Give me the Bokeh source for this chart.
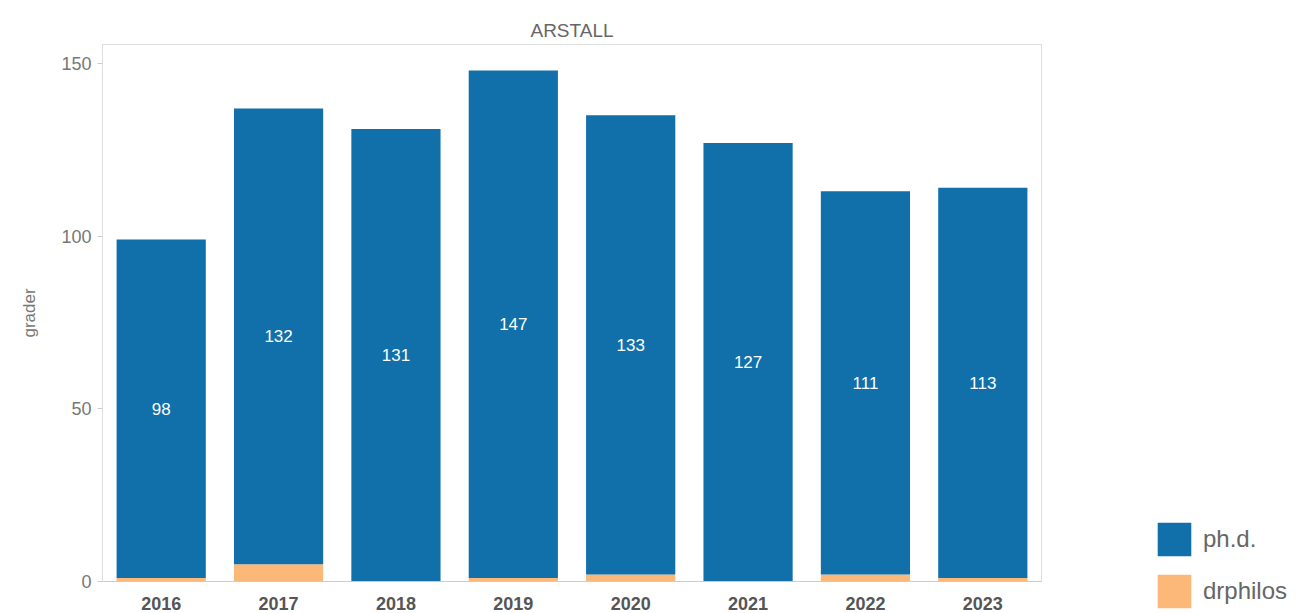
from bokeh.plotting import figure
from bokeh.models import ColumnDataSource, FactorRange, Legend, LegendItem, FixedTicker, Title
from bokeh.core.properties import value
from bokeh.embed import file_html
from bokeh.resources import INLINE

years = ["2016", "2017", "2018", "2019", "2020", "2021", "2022", "2023"]
phd = [98, 132, 131, 147, 133, 127, 111, 113]
drphilos = [1, 5, 0, 1, 2, 0, 2, 1]
series = ["drphilos", "phd"]
series_labels = ["ph.d.", "drphilos"]
colors = {"phd": "#1170aa", "drphilos": "#fcb879"}
header = "ARSTALL"
y_label = "grader"

src = ColumnDataSource(dict(
    years=years,
    phd=phd,
    drphilos=drphilos,
    label_y=[d + v / 2 for d, v in zip(drphilos, phd)],
    label=[str(v) for v in phd],
))

FONT = "Liberation Sans"

p = figure(
    x_range=FactorRange(*years, range_padding=0),
    y_range=(0, 155.5),
    frame_width=939, frame_height=537,
    output_backend="svg", toolbar_location=None,
    min_border_left=102, min_border_top=44, min_border_bottom=30, min_border_right=255,
)
p.title = Title(text=header, align="center", text_font=FONT, text_font_size="19px",
                text_color="#666666", text_font_style="normal", standoff=7)

rs = p.vbar_stack(series, x="years", width=0.76, source=src,
                  color=[colors[s] for s in series], line_color=None)

p.text(x="years", y="label_y", text="label", source=src, text_color="white",
       text_font=value(FONT), text_font_size="17px", text_align="center",
       text_baseline="middle")

p.xgrid.grid_line_color = None
p.ygrid.grid_line_color = None
p.outline_line_color = "#dddddd"
p.background_fill_color = "white"
p.border_fill_color = "white"

p.yaxis.ticker = FixedTicker(ticks=[0, 50, 100, 150])
p.yaxis.axis_line_color = None
p.yaxis.major_tick_line_color = "#cccccc"
p.yaxis.major_tick_out = 5
p.yaxis.major_tick_in = 0
p.yaxis.minor_tick_line_color = None
p.yaxis.major_label_text_font = FONT
p.yaxis.major_label_text_font_size = "18px"
p.yaxis.major_label_text_color = "#777777"
p.yaxis.major_label_standoff = 6
p.yaxis.axis_label = y_label
p.yaxis.axis_label_text_font = FONT
p.yaxis.axis_label_text_font_size = "17px"
p.yaxis.axis_label_text_font_style = "normal"
p.yaxis.axis_label_text_color = "#777777"
p.yaxis.axis_label_standoff = 19

p.xaxis.axis_line_color = "#cccccc"
p.xaxis.major_tick_line_color = None
p.xaxis.major_label_text_font = FONT
p.xaxis.major_label_text_font_size = "18px"
p.xaxis.major_label_text_font_style = "bold"
p.xaxis.major_label_text_color = "#555555"
p.xaxis.major_label_standoff = 9

legend = Legend(items=[
    LegendItem(label=series_labels[0], renderers=[rs[1]]),
    LegendItem(label=series_labels[1], renderers=[rs[0]]),
], location=(112, -31))
legend.glyph_width = 42
legend.glyph_height = 42
legend.spacing = 10
legend.padding = 0
legend.margin = 0
legend.label_standoff = 8
legend.label_text_font = FONT
legend.label_text_font_size = "24px"
legend.label_text_color = "#666666"
legend.border_line_color = None
legend.background_fill_alpha = 0
p.add_layout(legend, "right")

open("out.html", "w").write(file_html(p, INLINE))
